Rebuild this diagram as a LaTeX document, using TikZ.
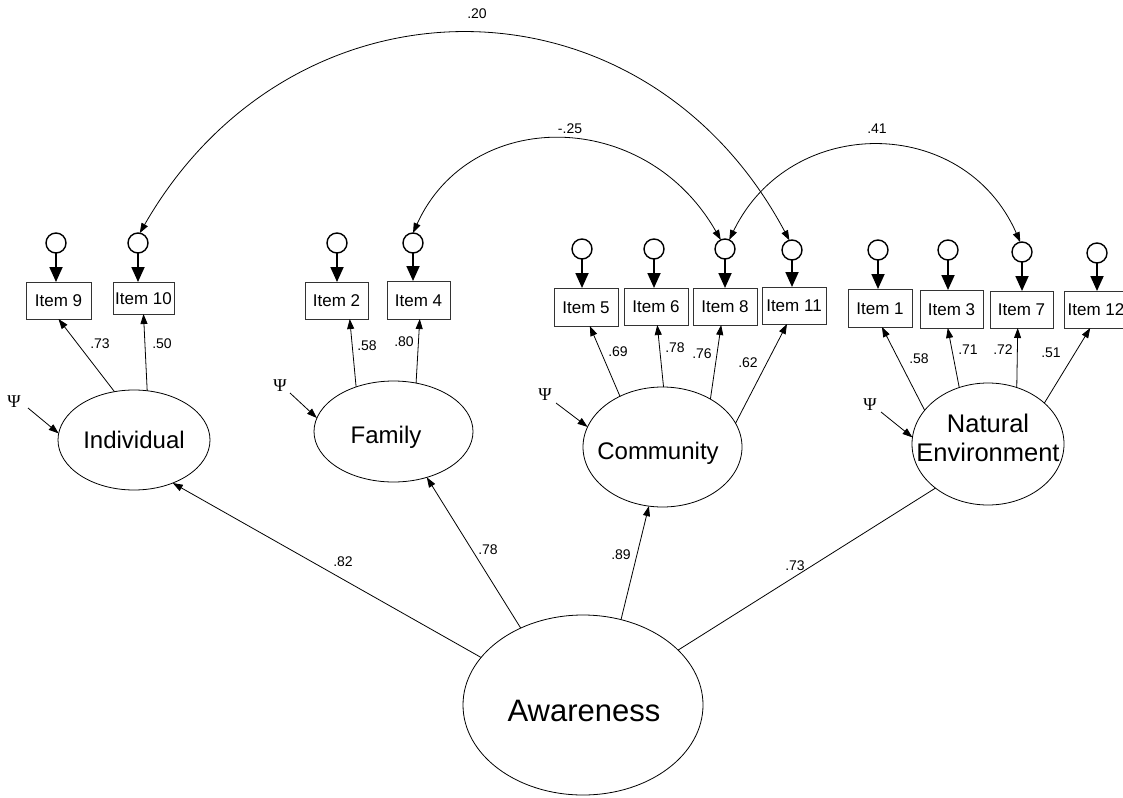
\documentclass[tikz,border=0pt]{standalone}
\usepackage{fontspec}
\setmainfont{Liberation Sans}
\newfontfamily\psifont{Liberation Serif}
\usetikzlibrary{shapes.geometric,arrows.meta,calc}
\begin{document}
\begin{tikzpicture}[x=1pt,y=-1pt,
  item/.style={draw=black!80,line width=0.9pt,inner sep=0pt,outer sep=0pt,
    minimum width=64pt,minimum height=37pt,
    font=\fontsize{17}{20}\selectfont,text height=12.2pt,text depth=0pt},
  err/.style={circle,draw,line width=1.4pt,minimum size=20pt,inner sep=0pt,outer sep=0pt},
  errarr/.style={line width=1.8pt,-{Triangle[length=15pt,width=13pt]}},
  lat/.style={ellipse,draw,line width=0.8pt,inner sep=0pt,outer sep=0pt},
  lattext/.style={inner sep=0pt,font=\fontsize{24}{29}\selectfont,text height=17.3pt,text depth=0pt},
  load/.style={line width=0.8pt,-{Triangle[length=10pt,width=7pt]}},
  plain/.style={line width=0.8pt},
  cov/.style={line width=0.8pt,{Triangle[length=10pt,width=7pt]}-{Triangle[length=10pt,width=7pt]}},
  lbl/.style={inner sep=0pt,font=\fontsize{14}{16}\selectfont,text height=10.1pt,text depth=0pt},
  psi/.style={inner sep=0pt,font=\psifont\fontsize{18}{20}\selectfont},
]
\useasboundingbox[fill=white] (0,0) rectangle (1123,797);

% latent variables
\node[lat,minimum width=152pt,minimum height=100pt] (ind) at (134,440) {};
\node[lattext] (indt) at (134,440) {Individual};
\node[lat,minimum width=159pt,minimum height=101pt] (fam) at (393.5,431.5) {};
\node[lattext] (famt) at (386,435) {Family};
\node[lat,minimum width=159pt,minimum height=120pt] (com) at (662.5,447) {};
\node[lattext] (comt) at (658,451) {Community};
\node[lat,minimum width=152pt,minimum height=122pt] (nat) at (988,444) {};
\node[lattext,font=\fontsize{25.5}{30}\selectfont,text height=18.3pt] (natt1) at (988,423) {Natural};
\node[lattext,font=\fontsize{25.5}{30}\selectfont,text height=18.3pt] (natt2) at (988,452) {Environment};
\node[lat,minimum width=240pt,minimum height=180pt] (aw) at (583,705) {};
\node[lattext,font=\fontsize{31}{36}\selectfont,text height=22.3pt] (awt) at (584,710) {Awareness};

% items
\node[item,minimum width=65pt] (i9) at (58.5,300.5) {Item 9};
\node[item,minimum width=61pt,minimum height=32pt] (i10) at (143.5,298) {Item 10};
\node[item,minimum width=63pt] (i2) at (336.5,300.5) {Item 2};
\node[item,minimum width=63pt,minimum height=38pt] (i4) at (418.5,300) {Item 4};
\node[item,minimum height=38pt] (i5) at (586,307) {Item 5};
\node[item] (i6) at (656,306.5) {Item 6};
\node[item] (i8) at (725,306.5) {Item 8};
\node[item] (i11) at (794,305.5) {Item 11};
\node[item,minimum height=38pt] (i1) at (880,308) {Item 1};
\node[item,minimum width=63pt,minimum height=38pt] (i3) at (951.5,309) {Item 3};
\node[item,minimum width=63pt] (i7) at (1021.5,309.5) {Item 7};
\node[item] (i12) at (1096,309.5) {Item 12};

% error terms
\node[err] (e9) at (56,243) {};
\node[err] (e10) at (138,243) {};
\node[err] (e2) at (337,243) {};
\node[err] (e4) at (413,243) {};
\node[err] (e5) at (582,249) {};
\node[err] (e6) at (654,249) {};
\node[err] (e8) at (725,249) {};
\node[err] (e11) at (792,250) {};
\node[err] (e1) at (878,250) {};
\node[err] (e3) at (948,250) {};
\node[err] (e7) at (1022,252) {};
\node[err] (e12) at (1097,253) {};

\foreach \e/\i in {e9/i9,e10/i10,e2/i2,e4/i4,e5/i5,e6/i6,e8/i8,e11/i11,e1/i1,e3/i3,e7/i7,e12/i12}
  \draw[errarr] (\e.south) -- (\e.south |- \i.north);

% disturbances
\node[psi] (psi1) at (14,402) {Ψ};
\node[psi] (psi2) at (280,386) {Ψ};
\node[psi] (psi3) at (545,395) {Ψ};
\node[psi] (psi4) at (870,405) {Ψ};
\coordinate (ps1) at (28,408);
\coordinate (ps2) at (290,393);
\coordinate (ps3) at (556,403);
\coordinate (ps4) at (881,412);
\draw[load] (ps1) -- (ind.175);
\draw[load] (ps2) -- (fam.170);
\draw[load] (ps3) -- (com.165);
\draw[load] (ps4) -- (nat.175);

% loadings
\draw[load] (ind.112.8) -- (i9.south);
\draw[load] (ind.75) -- (i10.south);
\draw[load] (fam.130) -- ($(i2.south west)!.71!(i2.south east)$);
\draw[load] (fam.65) -- ($(i4.south west)!.52!(i4.south east)$);
\draw[load] (com.130.8) -- ($(i5.south west)!.56!(i5.south east)$);
\draw[load] (com.89) -- ($(i6.south west)!.52!(i6.south east)$);
\draw[load] (com.45) -- ($(i8.south west)!.44!(i8.south east)$);
\draw[load] (com.18.7) -- ($(i11.south west)!.39!(i11.south east)$);
\draw[load] (nat.152) -- ($(i1.south west)!.53!(i1.south east)$);
\draw[load] (nat.117.4) -- ($(i3.south west)!.44!(i3.south east)$);
\draw[load] (nat.63.9) -- ($(i7.south west)!.44!(i7.south east)$);
\draw[load] (nat.36) -- ($(i12.south west)!.41!(i12.south east)$);

\node[lbl] (l9) at (100,343) {.73};
\node[lbl] (l10) at (162,343) {.50};
\node[lbl] (l2) at (367,345) {.58};
\node[lbl] (l4) at (404,341) {.80};
\node[lbl] (l5) at (618,351) {.69};
\node[lbl] (l6) at (675,347) {.78};
\node[lbl] (l8) at (702,353) {.76};
\node[lbl] (l11) at (748,362) {.62};
\node[lbl] (l1) at (919,358) {.58};
\node[lbl] (l3) at (968,349) {.71};
\node[lbl] (l7) at (1003,349) {.72};
\node[lbl] (l12) at (1051,352) {.51};

% structural paths
\draw[load] (aw.155) -- (ind.-48);
\draw[load] (aw.129.3) -- (fam.-54);
\draw[load] (aw.66.5) -- (com.-103.6);
\draw[plain] (aw.30.5) -- (nat.-140);
\node[lbl] (s1) at (343,561) {.82};
\node[lbl] (s2) at (488,549) {.78};
\node[lbl] (s3) at (621,554) {.89};
\node[lbl] (s4) at (795,565) {.73};

% covariances
\draw[cov] (e4.90) .. controls (470,107) and (645,107) .. (e8.115);
\draw[cov] (e8.65) .. controls (790,114) and (964,114) .. (e7.100);
\draw[cov] (e10.80) .. controls (293,-34) and (643,-34) .. (e11.105);
\node[lbl] (c1) at (570,128) {-.25};
\node[lbl] (c2) at (877,128) {.41};
\node[lbl] (c3) at (477,13) {.20};
\end{tikzpicture}
\end{document}
